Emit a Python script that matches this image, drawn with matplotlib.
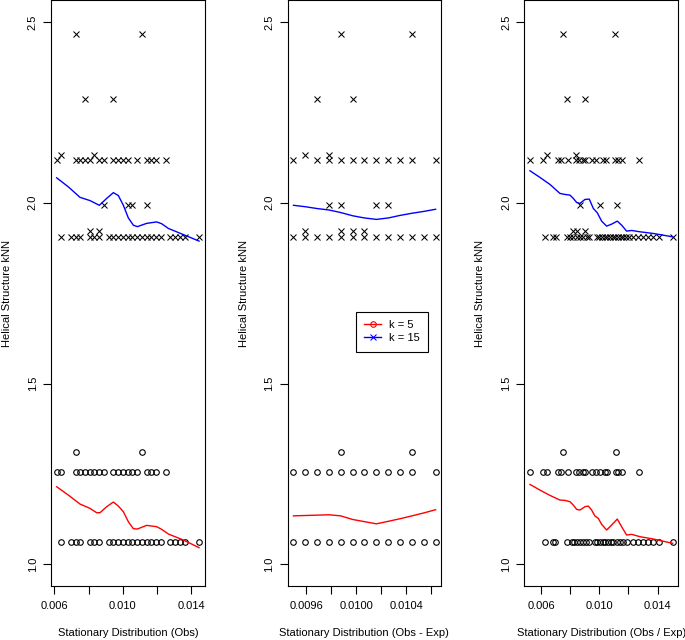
import numpy as np
import matplotlib
matplotlib.use("Agg")
import matplotlib.pyplot as plt
from matplotlib.lines import Line2D

plt.rcParams['font.family'] = ['Liberation Sans', 'DejaVu Sans']

# ---------------- data ----------------
y_label = "Helical Structure kNN"
x_labels = ["Stationary Distribution (Obs)",
            "Stationary Distribution (Obs - Exp)",
            "Stationary Distribution (Obs / Exp)"]
legend_labels = ["k = 5", "k = 15"]

# Panel 1: Obs
obs_k5_levels = [1.312, 1.256, 1.061]
obs_k5_rows = [
    [0.00725, 0.01112],
    [0.00614, 0.00641, 0.00725, 0.00752, 0.00780, 0.00808, 0.00835, 0.00863, 0.00891,
     0.00946, 0.00974, 0.01002, 0.01029, 0.01057, 0.01085, 0.01140, 0.01168, 0.01195, 0.01251],
    [0.00641, 0.00697, 0.00725, 0.00752, 0.00808, 0.00835, 0.00863, 0.00918, 0.00946,
     0.00974, 0.01002, 0.01029, 0.01057, 0.01085, 0.01112, 0.01140, 0.01168, 0.01195,
     0.01223, 0.01279, 0.01306, 0.01334, 0.01362, 0.01447],
]
obs_k15_levels = [2.468, 2.287, 2.132, 2.118, 1.995, 1.923, 1.906]
obs_k15_rows = [
    [0.00725, 0.01112],
    [0.00780, 0.00946],
    [0.00641, 0.00835],
    [0.00614, 0.00725, 0.00752, 0.00780, 0.00808, 0.00863, 0.00891, 0.00946, 0.00974,
     0.01002, 0.01029, 0.01085, 0.01140, 0.01168, 0.01195, 0.01251],
    [0.00891, 0.01029, 0.01057, 0.01140],
    [0.00808, 0.00863],
    [0.00641, 0.00697, 0.00725, 0.00752, 0.00808, 0.00835, 0.00863, 0.00918, 0.00946,
     0.00974, 0.01002, 0.01029, 0.01057, 0.01085, 0.01112, 0.01140, 0.01168, 0.01195,
     0.01223, 0.01279, 0.01306, 0.01334, 0.01362, 0.01447],
]
obs_k15_line_x = [0.006137, 0.006820, 0.007502, 0.008088, 0.008634, 0.009063, 0.009454,
                  0.009746, 0.010039, 0.010332, 0.010624, 0.010859, 0.011405, 0.011990,
                  0.012283, 0.012673, 0.013551, 0.014470]
obs_k15_line_y = [2.069, 2.044, 2.015, 2.006, 1.993, 2.012, 2.028, 2.020, 1.993, 1.958,
                  1.938, 1.934, 1.943, 1.947, 1.942, 1.929, 1.912, 1.894]
obs_k5_line_x = [0.006137, 0.006820, 0.007502, 0.008088, 0.008478, 0.008673, 0.009063,
                 0.009454, 0.009746, 0.010039, 0.010332, 0.010624, 0.010859, 0.011405,
                 0.011990, 0.012283, 0.012673, 0.013551, 0.014470]
obs_k5_line_y = [1.2145, 1.1915, 1.1667, 1.1547, 1.1427, 1.1427, 1.1593, 1.1722, 1.1611,
                 1.1455, 1.1178, 1.0985, 1.0976, 1.1077, 1.1040, 1.0967, 1.0838, 1.0672,
                 1.0460]

# Panel 2: Obs - Exp
diff_x = [0.009499, 0.009595, 0.009688, 0.009784, 0.009877, 0.009973, 0.010067,
          0.010163, 0.010259, 0.010352, 0.010448, 0.010541, 0.010637]
diff_k5_levels = [1.312, 1.256, 1.061]
diff_k5_rows = [
    [0.009877, 0.010448],
    [0.009499, 0.009595, 0.009688, 0.009784, 0.009877, 0.009973, 0.010067, 0.010163,
     0.010259, 0.010352, 0.010448, 0.010637],
    [0.009499, 0.009595, 0.009688, 0.009784, 0.009877, 0.009973, 0.010067, 0.010163,
     0.010259, 0.010352, 0.010448, 0.010541, 0.010637],
]
diff_k15_levels = [2.468, 2.287, 2.132, 2.118, 1.995, 1.923, 1.906]
diff_k15_rows = [
    [0.009877, 0.010448],
    [0.009688, 0.009973],
    [0.009595, 0.009784],
    [0.009499, 0.009688, 0.009784, 0.009877, 0.009973, 0.010067, 0.010163, 0.010259,
     0.010352, 0.010448, 0.010637],
    [0.009784, 0.009877, 0.010163, 0.010259],
    [0.009595, 0.009877, 0.009973, 0.010067],
    [0.009499, 0.009595, 0.009688, 0.009784, 0.009877, 0.009973, 0.010067, 0.010163,
     0.010259, 0.010352, 0.010448, 0.010541, 0.010637],
]
diff_k15_line_y = [1.993, 1.989, 1.984, 1.980, 1.973, 1.964, 1.958, 1.954, 1.958, 1.965,
                   1.971, 1.976, 1.982]
diff_k5_line_y = [1.134, 1.135, 1.136, 1.137, 1.134, 1.124, 1.118, 1.112, 1.119, 1.126,
                  1.134, 1.142, 1.151]

# Panel 3: Obs / Exp
ratio_k5_levels = [1.312, 1.256, 1.061]
ratio_k5_rows = [
    [0.007486, 0.011120],
    [0.005246, 0.006114, 0.006434, 0.007189, 0.007349, 0.007829, 0.008400, 0.008629,
     0.008857, 0.009017, 0.009474, 0.009771, 0.010069, 0.010366, 0.010503, 0.011120,
     0.011303, 0.011577, 0.012743],
    [0.006274, 0.006800, 0.006937, 0.007806, 0.008103, 0.008286, 0.008491, 0.008674,
     0.008903, 0.009086, 0.009291, 0.009703, 0.009863, 0.010046, 0.010229, 0.010411,
     0.010594, 0.010777, 0.010960, 0.011189, 0.011417, 0.011646, 0.011874, 0.012331,
     0.012674, 0.013017, 0.013360, 0.013703, 0.014114, 0.015029],
]
ratio_k15_levels = [2.468, 2.287, 2.132, 2.118, 1.995, 1.923, 1.906]
ratio_k15_rows = [
    [0.007486, 0.011097],
    [0.007783, 0.008994],
    [0.006434, 0.008400],
    [0.005246, 0.006114, 0.007189, 0.007349, 0.007829, 0.008400, 0.008629, 0.008857,
     0.009017, 0.009474, 0.009771, 0.010229, 0.010457, 0.011074, 0.011303, 0.011531,
     0.012743],
    [0.008674, 0.010046, 0.011234],
    [0.008217, 0.008491, 0.009017],
    [0.006274, 0.006846, 0.007006, 0.007760, 0.007989, 0.008217, 0.008446, 0.008674,
     0.008903, 0.009131, 0.009314, 0.009817, 0.010000, 0.010183, 0.010366, 0.010549,
     0.010731, 0.010914, 0.011097, 0.011280, 0.011463, 0.011646, 0.011829, 0.012011,
     0.012331, 0.012674, 0.013017, 0.013360, 0.013703, 0.014114, 0.015029],
]
ratio_k15_line_x = [0.005246, 0.005931, 0.006617, 0.007303, 0.007646, 0.007989, 0.008217,
                    0.008446, 0.008674, 0.009017, 0.009314, 0.009589, 0.009863, 0.010160,
                    0.010503, 0.010846, 0.011234, 0.011531, 0.011874, 0.012217, 0.012789,
                    0.013703, 0.015029]
ratio_k15_line_y = [2.0885, 2.0701, 2.0507, 2.0258, 2.0230, 2.0212, 2.0120, 2.0009, 1.9981,
                    2.0092, 2.0101, 1.9843, 1.9723, 1.9492, 1.9354, 1.9409, 1.9492, 1.9381,
                    1.9215, 1.9234, 1.9197, 1.9151, 1.9058]
ratio_k5_line_x = [0.005246, 0.005931, 0.006617, 0.007303, 0.007646, 0.007989, 0.008217,
                   0.008446, 0.008674, 0.009017, 0.009246, 0.009474, 0.009703, 0.009931,
                   0.010160, 0.010503, 0.010846, 0.011234, 0.011531, 0.011874, 0.012217,
                   0.012789, 0.013703, 0.015029]
ratio_k5_line_y = [1.221, 1.2053, 1.1906, 1.1777, 1.1768, 1.1731, 1.1639, 1.1519, 1.1501,
                   1.1593, 1.1611, 1.1501, 1.1335, 1.1271, 1.1105, 1.0948, 1.1087, 1.1252,
                   1.1040, 1.0810, 1.0829, 1.0764, 1.0700, 1.0580]

y_ticks = [1.0, 1.5, 2.0, 2.5]
y_tick_labels = ["1.0", "1.5", "2.0", "2.5"]
obs_ticks = [0.006, 0.008, 0.010, 0.012, 0.014]
obs_tick_labels = ["0.006", "", "0.010", "", "0.014"]
diff_ticks = [0.0096, 0.0098, 0.0100, 0.0102, 0.0104, 0.0106]
diff_tick_labels = ["0.0096", "", "0.0100", "", "0.0104", ""]

# ---------------- layout ----------------
W, H = 685, 640
fig = plt.figure(figsize=(W / 100, H / 100), dpi=100)
TOP, BOT = 0.3, 586.0
panels_px = [(51.0, 204.7), (287.7, 441.0), (524.3, 678.3)]
xlims = [(0.005805, 0.014800), (0.009453, 0.010680), (0.004857, 0.015417)]

FS = 8.0
RED = "#FF0000"
BLUE = "#0000FF"
CIRC_MS, CIRC_MEW = 4.0, 0.8
X_MS, X_MEW = 4.2, 0.75


def make_axes(l, r):
    return fig.add_axes([l / W, 1 - BOT / H, (r - l) / W, (BOT - TOP) / H])


def draw_points(ax, levels, rows, kind):
    for lvl, row in zip(levels, rows):
        ys = np.full(len(row), lvl)
        if kind == "o":
            ax.plot(row, ys, linestyle="none", marker="o", mfc="none", mec="black",
                    ms=CIRC_MS, mew=CIRC_MEW)
        else:
            ax.plot(row, ys, linestyle="none", marker="x", color="black",
                    ms=X_MS, mew=X_MEW)


axes = []
for i, (l, r) in enumerate(panels_px):
    ax = make_axes(l, r)
    axes.append(ax)
    ax.set_xlim(*xlims[i])
    ax.set_ylim(0.94, 2.56)
    for sp in ax.spines.values():
        sp.set_linewidth(0.8)
        sp.set_color("black")
    ax.set_yticks(y_ticks)
    ax.set_yticklabels(y_tick_labels)
    ax.tick_params(axis="both", direction="out", length=5.5, width=0.8,
                   labelsize=FS, colors="black")
    ax.tick_params(axis="x", pad=5.5)
    ax.tick_params(axis="y", pad=4, labelrotation=90)
    for t in ax.get_yticklabels():
        t.set_va("center")
    ax.set_ylabel(y_label, fontsize=FS, va="center")
    ax.yaxis.set_label_coords(-44.0 / (r - l), 0.5)
    ax.set_xlabel(x_labels[i], fontsize=FS, va="center")
    ax.xaxis.set_label_coords(0.5, -(633.3 - BOT) / (BOT - TOP))

# panel 1
ax = axes[0]
draw_points(ax, obs_k5_levels, obs_k5_rows, "o")
draw_points(ax, obs_k15_levels, obs_k15_rows, "x")
ax.plot(obs_k5_line_x, obs_k5_line_y, color=RED, lw=1.0)
ax.plot(obs_k15_line_x, obs_k15_line_y, color=BLUE, lw=1.0)
ax.set_xticks(obs_ticks)
ax.set_xticklabels(obs_tick_labels)

# panel 2
ax = axes[1]
draw_points(ax, diff_k5_levels, diff_k5_rows, "o")
draw_points(ax, diff_k15_levels, diff_k15_rows, "x")
ax.plot(diff_x, diff_k5_line_y, color=RED, lw=1.0)
ax.plot(diff_x, diff_k15_line_y, color=BLUE, lw=1.0)
ax.set_xticks(diff_ticks)
ax.set_xticklabels(diff_tick_labels)

handles = [Line2D([], [], color=RED, lw=1.0, marker="o", mfc="none", mec=RED,
                  ms=CIRC_MS, mew=CIRC_MEW),
           Line2D([], [], color=BLUE, lw=1.0, marker="x", ms=X_MS, mew=X_MEW)]
leg = ax.legend(handles, legend_labels, loc="upper left",
                bbox_to_anchor=(356 / W, 1 - 311.7 / H), bbox_transform=fig.transFigure,
                borderaxespad=0, fancybox=False, edgecolor="black", framealpha=1,
                fontsize=FS, handlelength=1.5, handletextpad=0.75,
                labelspacing=0.3, borderpad=0.75)
leg.get_frame().set_linewidth(0.8)

# panel 3
ax = axes[2]
draw_points(ax, ratio_k5_levels, ratio_k5_rows, "o")
draw_points(ax, ratio_k15_levels, ratio_k15_rows, "x")
ax.plot(ratio_k5_line_x, ratio_k5_line_y, color=RED, lw=1.0)
ax.plot(ratio_k15_line_x, ratio_k15_line_y, color=BLUE, lw=1.0)
ax.set_xticks(obs_ticks)
ax.set_xticklabels(obs_tick_labels)

fig.savefig("out.png", dpi=100)
